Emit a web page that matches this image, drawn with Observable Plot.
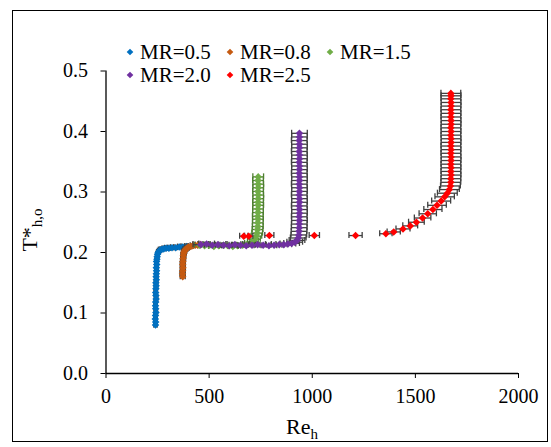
<!DOCTYPE html>
<html><head><meta charset="utf-8">
<script src="https://cdn.jsdelivr.net/npm/d3@7"></script>
<script src="https://cdn.jsdelivr.net/npm/@observablehq/plot@0.6"></script>
<style>
html,body{margin:0;padding:0;background:#fff;}
#chart{position:relative;width:551px;height:447px;}
#chart svg, #chart svg text { font-family: "Liberation Serif", "Times New Roman", serif !important; }
</style>
</head><body><div id="chart"></div>
<script>
// ---- data ----
const seriesNames = ["MR=0.5","MR=0.8","MR=1.5","MR=2.0","MR=2.5"];
const seriesColors = ["#0070C0","#C55A11","#70AD47","#7030A0","#FF0000"];
const errColors = ["#404040","#404040","#4E7F30","#404040","#404040"];
const xTicks = [0,500,1000,1500,2000];
const yTicks = [0,0.1,0.2,0.3,0.4,0.5];

const mr05Re = [240,241,239,240,242,241,240,241,243,242,241,242,243,242,244,243,244,245,244,246,245,247,248,250,253,257,262,270,280,292,305,320,338,355,372,390];
const mr05T  = [0.080,0.085,0.090,0.096,0.101,0.107,0.112,0.118,0.123,0.129,0.134,0.140,0.145,0.150,0.155,0.160,0.165,0.170,0.175,0.180,0.185,0.189,0.193,0.197,0.200,0.202,0.204,0.205,0.206,0.207,0.207,0.208,0.208,0.209,0.209,0.210];
const mr05Err = 8;

const mr08Re = [372,371,372,373,372,373,374,375,377,380,385,392,400,410,420,432,445,458];
const mr08T  = [0.160,0.165,0.170,0.175,0.180,0.185,0.190,0.195,0.199,0.202,0.205,0.207,0.209,0.210,0.211,0.212,0.212,0.213];
const mr08Err = 12;

const mr15Re = [455,478,500,523,547,570,592,615,638,660,680,698,712,722,729,733,735,736,736,737,736,737,737,738,737,738,738,737,738,738,737,738];
const mr15T  = [0.212,0.211,0.212,0.210,0.211,0.212,0.211,0.210,0.211,0.212,0.213,0.215,0.218,0.222,0.227,0.232,0.238,0.243,0.249,0.255,0.260,0.266,0.272,0.278,0.283,0.289,0.295,0.301,0.307,0.313,0.319,0.325];
const mr15Err = 26;

const mr20Re = [460,488,515,543,570,598,625,652,680,708,735,762,790,815,840,862,882,900,915,926,
                932,935,936,937,937,938,937,938,938,937,938,938,937,938,938,937,938,938,937,938,938,937,938,938,937,938,938,937,938,938];
const mr20T  = [0.213,0.214,0.212,0.213,0.212,0.211,0.213,0.212,0.211,0.212,0.213,0.212,0.211,0.212,0.213,0.213,0.214,0.215,0.217,0.220,
                0.224,0.229,0.235,0.241,0.247,0.253,0.259,0.265,0.271,0.277,0.283,0.289,0.295,0.301,0.307,0.313,0.319,0.325,0.331,0.337,0.343,0.349,0.355,0.361,0.367,0.373,0.379,0.385,0.391,0.397];
const mr20Err = 38;

const mr25Re = [668,692,792,1010,1210,1357,1395,1440,1475,1505,1535,1560,1585,1605,1625,1642,1655,1665,1670,1672,
                1672,1673,1672,1673,1672,1673,1673,1672,1673,1672,1673,1673,1672,1673,1672,1673,1673,1672,1673,1672,1673,1673,1672,1673,1672];
const mr25T  = [0.227,0.227,0.228,0.228,0.228,0.231,0.234,0.239,0.244,0.250,0.257,0.264,0.271,0.278,0.285,0.292,0.298,0.304,0.310,0.316,
                0.322,0.328,0.334,0.340,0.346,0.352,0.358,0.364,0.370,0.376,0.382,0.388,0.394,0.400,0.406,0.412,0.418,0.424,0.430,0.436,0.442,0.448,0.454,0.459,0.463];
const mr25Err = [20,20,22,25,32,30,32,34,36,38,40,42,44,45,46,47,48,48,48,48,
                 48,48,48,48,48,48,48,48,48,48,48,48,48,48,48,48,48,48,48,48,48,48,48,48,48];

// ---- build tables ----
const seriesRe = [mr05Re, mr08Re, mr15Re, mr20Re, mr25Re];
const seriesT = [mr05T, mr08T, mr15T, mr20T, mr25T];
const seriesErr = [mr05Err, mr08Err, mr15Err, mr20Err, mr25Err];
const tables = seriesRe.map((re, s) => re.map((r, i) => ({
  re: r, t: seriesT[s][i],
  e: Array.isArray(seriesErr[s]) ? seriesErr[s][i] : seriesErr[s]
})));

const capHalf = 0.005;
const marks = [];
tables.forEach((d, s) => {
  const c = errColors[s];
  marks.push(Plot.link(d, {x1: p => p.re - p.e, x2: p => p.re + p.e, y1: "t", y2: "t", stroke: c, strokeWidth: 1.3}));
  marks.push(Plot.ruleX(d, {x: p => p.re - p.e, y1: p => p.t - capHalf, y2: p => p.t + capHalf, stroke: c, strokeWidth: 1.3}));
  marks.push(Plot.ruleX(d, {x: p => p.re + p.e, y1: p => p.t - capHalf, y2: p => p.t + capHalf, stroke: c, strokeWidth: 1.3}));
  marks.push(Plot.dot(d, {x: "re", y: "t", symbol: "diamond2", r: 3.4, fill: seriesColors[s], stroke: "none"}));
});

const W = 551, H = 447;
const chart = Plot.plot({
  width: W, height: H,
  marginLeft: 105.5, marginRight: 33, marginTop: 70.5, marginBottom: 74,
  style: {fontFamily: "Liberation Serif, serif", fontSize: "20px", color: "#000", background: "transparent"},
  x: {domain: [0, 2000]},
  y: {domain: [0, 0.5]},
  marks: [
    Plot.axisX({ticks: xTicks, tickSize: 5, tickPadding: 10, label: null, tickFormat: d => String(d)}),
    Plot.axisY({ticks: yTicks, tickSize: 5, tickPadding: 13, label: null, tickFormat: d3.format(".1f")}),
    ...marks,
    Plot.ruleX([0], {y1: 0, y2: 0.5, stroke: "#000", strokeWidth: 1.3}),
    Plot.ruleY([0], {x1: 0, x2: 2000, stroke: "#000", strokeWidth: 1.3})
  ]
});

const svg = d3.select(chart);
svg.attr("font-family", "Liberation Serif, serif");
// outer chart border
svg.insert("rect", ":first-child")
  .attr("x", 12.5).attr("y", 10.5).attr("width", 535).attr("height", 431)
  .attr("fill", "none").attr("stroke", "#000").attr("stroke-width", 1);

// axis titles
const xt = svg.append("text").attr("x", 302).attr("y", 434).attr("text-anchor", "middle")
  .attr("font-size", 22).attr("fill", "#000");
xt.append("tspan").text("Re");
xt.append("tspan").attr("font-size", 15).attr("dy", 5).text("h");

const yt = svg.append("text").attr("transform", "translate(37,230) rotate(-90)").attr("text-anchor", "middle")
  .attr("font-size", 22).attr("fill", "#000");
yt.append("tspan").text("T*");
yt.append("tspan").attr("font-size", 15).attr("dy", 5).text("h,o");

// legend
const legendPos = [[130, 52], [230, 52], [330, 52], [130, 75], [230, 75]];
seriesNames.forEach((name, i) => {
  const [lx, ly] = legendPos[i];
  const g = svg.append("g").attr("transform", `translate(${lx},${ly})`);
  g.append("path").attr("d", "M0,-3.3L3.3,0L0,3.3L-3.3,0Z").attr("fill", seriesColors[i]);
  g.append("text").attr("x", 10).attr("y", 6.5).attr("text-anchor", "start")
    .attr("font-size", 21).attr("fill", "#000").text(name);
});

document.getElementById("chart").appendChild(chart);
</script>
</body></html>
